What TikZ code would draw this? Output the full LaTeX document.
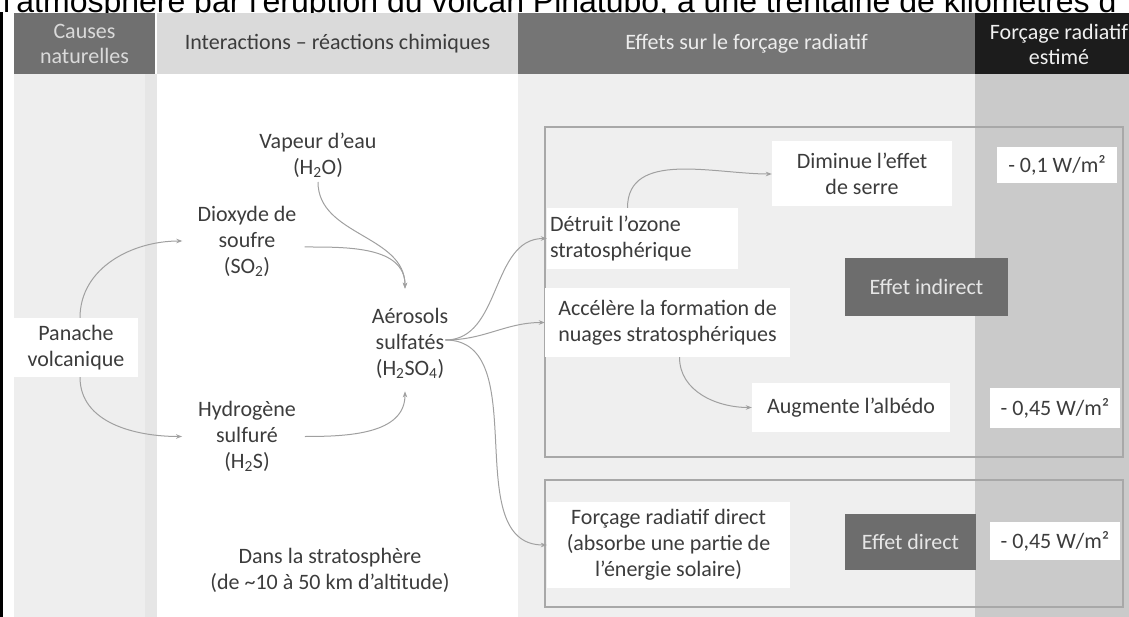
\documentclass[tikz,border=0pt]{standalone}
\usepackage{fontspec}
\setmainfont{Carlito}
\newfontfamily\titlefont{Liberation Sans}
\usetikzlibrary{arrows.meta}
\definecolor{txtc}{HTML}{3C3C3C}
\definecolor{colA}{HTML}{EEEEEE}
\definecolor{colAs}{HTML}{E6E6E6}
\definecolor{colC}{HTML}{EFEFEF}
\definecolor{colD}{HTML}{CACACA}
\definecolor{hA}{HTML}{707070}
\definecolor{hAt}{HTML}{DADADA}
\definecolor{hB}{HTML}{DADADA}
\definecolor{hBt}{HTML}{3C3C3C}
\definecolor{hC}{HTML}{757575}
\definecolor{hCt}{HTML}{ECECEC}
\definecolor{hD}{HTML}{1C1C1C}
\definecolor{hDt}{HTML}{F0F0F0}
\definecolor{dboxc}{HTML}{6D6D6D}
\definecolor{dtxt}{HTML}{E6E6E6}
\definecolor{framec}{HTML}{A8A8A8}
\definecolor{arrc}{HTML}{A0A0A0}
\newcommand\bodyf{\fontsize{22}{26}\selectfont}
\newcommand\headf{\fontsize{22}{25}\selectfont}
\tikzset{
  txt/.style={font=\bodyf, text=txtc, align=center, inner sep=0pt},
  wbox/.style={font=\bodyf, text=txtc, align=center, fill=white, inner sep=0pt},
  dbox/.style={font=\bodyf, text=dtxt, fill=dboxc, inner sep=0pt},
  hcell/.style={font=\headf, align=center, inner sep=0pt, minimum height=61pt},
  framebox/.style={draw=framec, line width=1.1pt, inner sep=0pt},
  conn/.style={draw=arrc, line width=1pt, -{Stealth[length=6pt,width=4.5pt]}}
}
\begin{document}
\begin{tikzpicture}[x=1pt,y=1pt]
\useasboundingbox (0,0) rectangle (1129,-617);
% title (cropped at the top, partly hidden by the header)
\node[anchor=base west, font=\titlefont\fontsize{32}{36}\selectfont, inner sep=0pt] (title) at (3,-13) {l\textquotesingle atmosphère par l\textquotesingle éruption du volcan Pinatubo, à une trentaine de kilomètres d};
% column backgrounds
\fill[colA] (14,-74) rectangle (157,-617);
\fill[colAs] (145,-74) rectangle (157,-617);
\fill[colC] (518,-74) rectangle (975,-617);
\fill[colD] (975,-74) rectangle (1129,-617);
% header
\node[hcell, fill=hA, text=hAt, minimum width=141pt] (hCause) at (84.5,-44) {Causes\\naturelles};
\node[hcell, fill=hB, text=hBt, minimum width=361pt] (hInter) at (337.5,-44) {Interactions – réactions chimiques};
\node[hcell, fill=hC, text=hCt, minimum width=457pt] (hEff) at (746.5,-44) {Effets sur le forçage radiatif};
\node[hcell, fill=hD, text=hDt, minimum width=168pt] (hFor) at (1059,-44) {Forçage radiatif\\estimé};
% left black rule
\fill[black] (0,-12) rectangle (2.5,-617);
% frames
\node[framebox, minimum width=578pt, minimum height=330pt] (indframe) at (834,-292) {};
\node[framebox, minimum width=578pt, minimum height=127pt] (dirframe) at (834,-543.5) {};
% column 1-2 nodes
\node[wbox, minimum width=124pt, minimum height=59pt] (pan) at (76,-347.5) {Panache\\volcanique};
\node[txt] (vap) at (318,-155.5) {Vapeur d’eau\\(H\textsubscript{2}O)};
\node[txt] (dio) at (247,-241) {Dioxyde de\\soufre\\(SO\textsubscript{2})};
\node[txt] (aer) at (410,-343) {Aérosols\\sulfatés\\(H\textsubscript{2}SO\textsubscript{4})};
\node[txt] (hyd) at (247,-436.5) {Hydrogène\\sulfuré\\(H\textsubscript{2}S)};
\node[txt] (dans) at (330,-570) {Dans la stratosphère\\(de \textasciitilde10 à 50 km d’altitude)};
% column 3-4 nodes
\node[wbox, minimum width=180pt, minimum height=65pt] (dim) at (862,-174) {Diminue l’effet\\de serre};
\node[wbox, minimum width=191pt, minimum height=61pt, text width=185pt, inner xsep=3pt, align=flush left] (det) at (642.5,-238.5) {Détruit l’ozone\\stratosphérique};
\node[wbox, minimum width=245pt, minimum height=69pt] (acc) at (667.5,-322.5) {Accélère la formation de\\nuages stratosphériques};
\node[dbox, minimum width=163pt, minimum height=58pt] (effind) at (926.5,-287) {Effet indirect};
\node[wbox, minimum width=198pt, minimum height=49pt] (aug) at (851,-407.5) {Augmente l’albédo};
\node[wbox, minimum width=120pt, minimum height=36pt] (v1) at (1057,-165) {- 0,1 W/m²};
\node[wbox, minimum width=130pt, minimum height=40pt] (v2) at (1055,-408) {- 0,45 W/m²};
\node[wbox, minimum width=243pt, minimum height=86pt] (frd) at (668.5,-545) {Forçage radiatif direct\\(absorbe une partie de\\l’énergie solaire)};
\node[dbox, minimum width=131pt, minimum height=56pt] (effdir) at (910.5,-542) {Effet direct};
\node[wbox, minimum width=130pt, minimum height=38pt] (v3) at (1055,-541) {- 0,45 W/m²};
% helper coordinates
\coordinate (aerin) at ([xshift=-5pt,yshift=19pt]aer.north);
\coordinate (aerbot) at ([xshift=-5pt,yshift=-13pt]aer.south);
\coordinate (aerout) at ([xshift=-3pt,yshift=3pt]aer.east);
% connectors
\draw[conn] ([xshift=4pt]pan.north) to[out=90,in=180] ([xshift=-15pt]dio.west);
\draw[conn] ([xshift=4pt]pan.south) to[out=-90,in=180] ([xshift=-16pt]hyd.west);
\draw[conn] ([xshift=8pt,yshift=-6pt]dio.east) to[out=0,in=90] (aerin);
\draw[conn] ([yshift=-4pt]vap.south) to[out=-90,in=90] (aerin);
\draw[conn] ([xshift=9pt]hyd.east) to[out=0,in=-90] (aerbot);
\draw[conn] (aerout) to[out=0,in=180] (det.west);
\draw[conn] (aerout) to[out=0,in=180] (acc.west);
\draw[conn] (aerout) to[out=0,in=180] (frd.west);
\draw[conn] ([xshift=-15pt]det.north) to[out=90,in=180] (dim.west);
\draw[conn] ([xshift=12pt]acc.south) to[out=-90,in=180] (aug.west);
\end{tikzpicture}
\end{document}
